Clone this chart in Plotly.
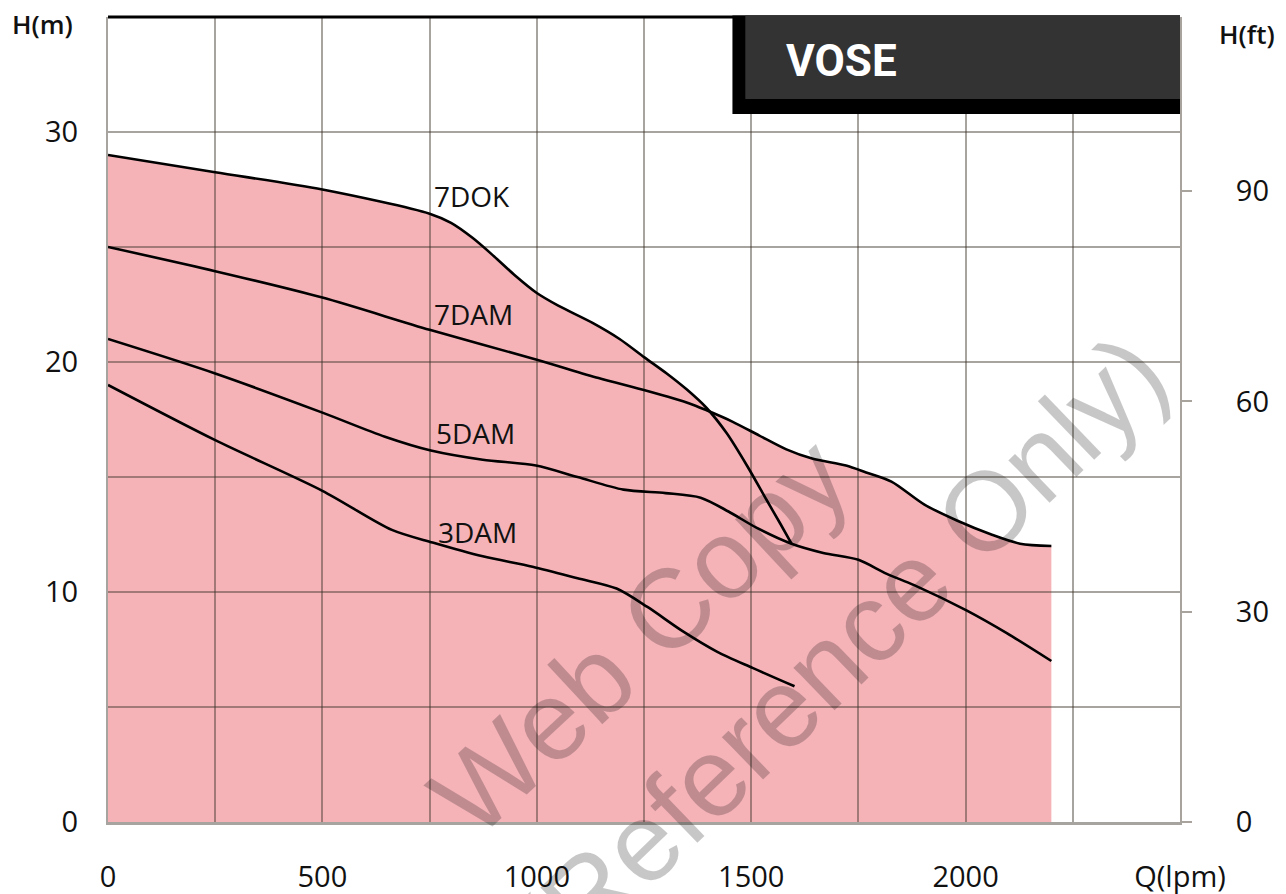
import plotly.graph_objects as go

# ---- data ----
Q_7DOK = [0, 250, 500, 750, 800, 850, 900, 950, 1000, 1050, 1130, 1193, 1251, 1303, 1350, 1396, 1443, 1490, 1536, 1567, 1594]
H_7DOK = [29.0, 28.25, 27.5, 26.45, 26.05, 25.4, 24.6, 23.75, 23.0, 22.45, 21.7, 21.0, 20.2, 19.5, 18.8, 18.0, 16.9, 15.5, 14.0, 13.0, 12.1]

Q_7DAM = [0, 250, 500, 750, 1000, 1144, 1256, 1356, 1396, 1457, 1519, 1582, 1642, 1721, 1768, 1827, 1904, 1981, 2060, 2127, 2200]
H_7DAM = [25.0, 23.95, 22.8, 21.4, 20.1, 19.3, 18.75, 18.2, 17.9, 17.4, 16.8, 16.2, 15.8, 15.5, 15.2, 14.8, 13.8, 13.1, 12.5, 12.1, 12.0]

Q_5DAM = [0, 250, 500, 646, 753, 874, 998, 1095, 1202, 1300, 1382, 1447, 1512, 1594, 1668, 1750, 1815, 1880, 2002, 2097, 2200]
H_5DAM = [21.0, 19.5, 17.8, 16.75, 16.15, 15.75, 15.5, 15.0, 14.45, 14.3, 14.1, 13.5, 12.8, 12.1, 11.7, 11.4, 10.8, 10.3, 9.2, 8.2, 7.0]

Q_3DAM = [0, 250, 500, 662, 757, 874, 990, 1095, 1186, 1258, 1340, 1421, 1503, 1601]
H_3DAM = [19.0, 16.6, 14.4, 12.7, 12.15, 11.55, 11.1, 10.6, 10.15, 9.35, 8.3, 7.4, 6.7, 5.9]

# top edge of the shaded operating range
FILL_Q = [0, 250, 500, 750, 800, 850, 900, 950, 1000, 1050, 1130, 1193, 1251, 1303, 1350, 1396, 1457, 1519, 1582, 1642, 1721, 1768, 1827, 1904, 1981, 2060, 2127, 2200]
FILL_H = [29.0, 28.25, 27.5, 26.45, 26.05, 25.4, 24.6, 23.75, 23.0, 22.45, 21.7, 21.0, 20.2, 19.5, 18.8, 18.0, 17.4, 16.8, 16.2, 15.8, 15.5, 15.2, 14.8, 13.8, 13.1, 12.5, 12.1, 12.0]

CURVE_NAMES = ["7DOK", "7DAM", "5DAM", "3DAM"]
LABEL_Q = [755, 755, 760, 765]
LABEL_H = [27.2, 22.1, 16.9, 12.6]

X_TICKS = [0, 250, 500, 750, 1000, 1250, 1500, 1750, 2000, 2250, 2500]
X_TEXT = ["0", "", "500", "", "1000", "", "1500", "", "2000", "", "Q(lpm)"]
Y_TICKS = [0, 5, 10, 15, 20, 25, 30, 35]
Y_TEXT = ["0", "", "10", "", "20", "", "30", ""]
FT_TICKS = [0, 30, 60, 90]

Q_MAX = 2500
H_MAX = 35
M_TO_FT = 3.28084

FONT = "Open Sans, Noto Sans, Liberation Sans, sans-serif"
TXT = "#111111"
GRID = "rgba(60,50,40,0.45)"
PINK = "#f5b3b8"

fig = go.Figure()

# shaded area (lower subplot so the grid is drawn over it)
fig.add_trace(go.Scatter(
    x=FILL_Q, y=FILL_H, mode="lines", fill="tozeroy", fillcolor=PINK,
    line=dict(width=0, shape="spline", smoothing=0.8, color=PINK),
    xaxis="x", yaxis="y", hoverinfo="skip", showlegend=False))

for name, q, h in zip(CURVE_NAMES, [Q_7DOK, Q_7DAM, Q_5DAM, Q_3DAM], [H_7DOK, H_7DAM, H_5DAM, H_3DAM]):
    fig.add_trace(go.Scatter(
        x=q, y=h, mode="lines", name=name,
        line=dict(color="#000000", width=2.6, shape="spline", smoothing=0.8),
        xaxis="x2", yaxis="y2", showlegend=False))

# curve labels
for name, q, h in zip(CURVE_NAMES, LABEL_Q, LABEL_H):
    fig.add_annotation(x=q, y=h, xref="x2", yref="y2", text=name, showarrow=False,
                       xanchor="left", yanchor="middle",
                       font=dict(family=FONT, size=28, color=TXT, weight=500))

TICKFONT = dict(family=FONT, size=29, color=TXT, weight=500)

# page body has an 8px margin: size/margins compensate so the plot lands where the reference has it
fig.update_layout(
    width=1278, height=886,
    margin=dict(l=100, r=106, t=9, b=72, autoexpand=False),
    paper_bgcolor="white", plot_bgcolor="rgba(0,0,0,0)",
    xaxis=dict(domain=[0, 1], range=[0, Q_MAX], visible=False, fixedrange=True),
    yaxis=dict(domain=[0, 1], range=[0, H_MAX], visible=False, anchor="x", fixedrange=True),
    xaxis2=dict(domain=[0, 1], range=[0, Q_MAX], anchor="y2", automargin=False,
                tickmode="array", tickvals=X_TICKS, ticktext=X_TEXT,
                showgrid=True, gridcolor=GRID, gridwidth=2,
                showline=True, linecolor=GRID, linewidth=2.5,
                ticks="", ticklabelstandoff=27, zeroline=False,
                tickfont=TICKFONT),
    yaxis2=dict(domain=[0, 1], range=[0, H_MAX], anchor="x2", automargin=False,
                tickmode="array", tickvals=Y_TICKS, ticktext=Y_TEXT,
                showgrid=True, gridcolor=GRID, gridwidth=2,
                showline=True, linecolor=GRID, linewidth=2,
                ticks="", ticklabelstandoff=22, zeroline=False,
                tickfont=TICKFONT),
    yaxis3=dict(overlaying="y2", side="right", anchor="x2", automargin=False,
                range=[0, H_MAX * M_TO_FT], tickmode="array", tickvals=FT_TICKS,
                showgrid=False, zeroline=False,
                showline=True, linecolor="#a8a49d", linewidth=2,
                ticks="outside", ticklen=10, tickwidth=2, tickcolor="#a8a49d",
                ticklabelstandoff=38,
                tickfont=TICKFONT),
)

# invisible trace to activate the right axis
fig.add_trace(go.Scatter(x=[0], y=[0], xaxis="x2", yaxis="y3", mode="markers",
                         marker=dict(opacity=0), hoverinfo="skip", showlegend=False))

# top border
fig.add_shape(type="line", xref="paper", yref="paper", x0=0, x1=1, y0=1, y1=1,
              line=dict(color="#000000", width=3), layer="above")
# title box
fig.add_shape(type="rect", xref="paper", yref="paper", x0=0.5825, x1=1.0, y0=0.8795, y1=1.002,
              fillcolor="#000000", line=dict(width=0), layer="above")
fig.add_shape(type="rect", xref="paper", yref="paper", x0=0.5945, x1=1.0, y0=0.898, y1=1.002,
              fillcolor="#333333", line=dict(width=0), layer="above")
fig.add_annotation(x=0.684, y=0.945, xref="paper", yref="paper", text="VOSE",
                   showarrow=False, xanchor="center", yanchor="middle",
                   font=dict(family="Roboto, Liberation Sans, Arial", size=44, color="white", weight=700))

# axis titles
fig.add_annotation(x=-0.0615, y=0.991, xref="paper", yref="paper", text="H(m)", showarrow=False,
                   xanchor="center", yanchor="middle",
                   font=dict(family=FONT, size=26, color=TXT, weight=600))
fig.add_annotation(x=1.0625, y=0.979, xref="paper", yref="paper", text="H(ft)", showarrow=False,
                   xanchor="center", yanchor="middle",
                   font=dict(family=FONT, size=26, color=TXT, weight=600))

# watermark
fig.add_annotation(x=0.496, y=0.231, xref="paper", yref="paper", text="Web Copy", showarrow=False,
                   textangle=-43, xanchor="center", yanchor="middle",
                   font=dict(family="Liberation Sans, Arial", size=112, color="rgba(0,0,0,0.22)"))
fig.add_annotation(x=0.683, y=0.212, xref="paper", yref="paper", text="(Reference Only)", showarrow=False,
                   textangle=-44, xanchor="center", yanchor="middle",
                   font=dict(family="Liberation Sans, Arial", size=112, color="rgba(0,0,0,0.22)"))

fig.write_html("out.html")
